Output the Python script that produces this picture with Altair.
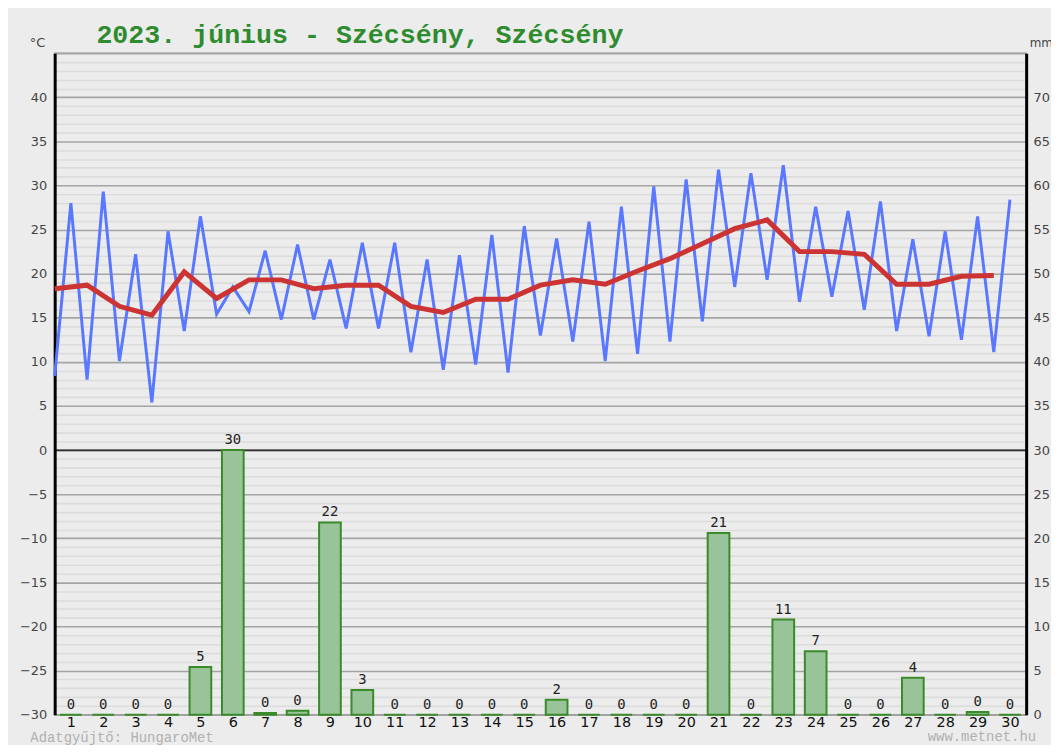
import altair as alt
import pandas as pd

days = list(range(1, 31))
tmin = [8.4, 8.0, 10.1, 5.4, 13.5, 15.4, 15.7, 14.8, 14.8, 13.8,
        13.8, 11.1, 9.1, 9.7, 8.8, 13.0, 12.3, 10.1, 10.9, 12.3,
        14.6, 18.5, 19.3, 16.8, 17.4, 15.9, 13.5, 12.9, 12.5, 11.1]
tmax = [28.0, 29.3, 22.2, 24.8, 26.5, 18.5, 22.6, 23.3, 21.6, 23.5,
        23.5, 21.6, 22.1, 24.4, 25.4, 24.0, 25.9, 27.6, 29.9, 30.7,
        31.8, 31.4, 32.3, 27.6, 27.1, 28.2, 23.9, 24.8, 26.5, 28.4]
tmean = [18.3, 18.7, 16.3, 15.3, 20.2, 17.2, 19.3, 19.3, 18.3, 18.7,
         18.7, 16.3, 15.6, 17.1, 17.1, 18.7, 19.3, 18.8, 20.3, 21.7,
         23.4, 25.1, 26.1, 22.5, 22.5, 22.2, 18.8, 18.8, 19.7, 19.8]
precip = [0, 0, 0, 0, 5.4, 30.0, 0.2, 0.45, 21.8, 2.8,
          0, 0, 0, 0, 0, 1.7, 0, 0, 0, 0,
          20.6, 0, 10.8, 7.2, 0, 0, 4.2, 0, 0.3, 0]

title_text = "2023. június - Szécsény, Szécsény"
footer_left = "Adatgyűjtő: HungaroMet"
footer_right = "www.metnet.hu"

df = pd.DataFrame({"day": days, "tmin": tmin, "tmax": tmax,
                   "tmean": tmean, "precip": precip})

PW, PH = 978, 666
xscale = alt.Scale(domain=[0, 30], nice=False, zero=False)
tscale = alt.Scale(domain=[-30, 45], nice=False, zero=False)
mmscale = alt.Scale(domain=[0, 75], nice=False, zero=False)

xaxis = alt.Axis(
    values=[d - 0.5 for d in days], tickCount=200,
    labelExpr="format(datum.value + 0.5, 'd')",
    ticks=False, domain=False, grid=False, labelFontSize=14.5, labelColor="#111",
    labelFont="DejaVu Sans", labelPadding=1, labelFlush=False, labelOverlap=False,
    title=footer_left, titleX=-25, titleY=22.5, titleAlign="left",
    titleBaseline="middle", titleFont="Liberation Mono", titleFontSize=14,
    titleColor="#b0b0b0", titleFontWeight="normal")

yaxis = alt.Axis(
    values=list(range(-30, 46)), tickCount=200, format="d",
    labelExpr="(datum.value % 5 === 0 && datum.value < 45) ? datum.label : ''",
    ticks=False, domain=True, domainColor="#000", domainWidth=3,
    grid=True, gridWidth=1.6,
    gridColor={"condition": {"test": "datum.value % 5 === 0", "value": "#a4a4a4"},
               "value": "#dcdcdc"},
    labelFont="DejaVu Sans", labelFontSize=13, labelColor="#444", labelPadding=8,
    labelOverlap=False, labelFlush=False,
    title="°C", titleAngle=0, titleX=-10, titleY=-4, titleAlign="right",
    titleBaseline="bottom", titleFont="DejaVu Sans", titleFontSize=13,
    titleColor="#444", titleFontWeight="normal")

mmaxis = alt.Axis(
    orient="right", values=list(range(0, 75, 5)), tickCount=200, format="d",
    ticks=False, domain=True, domainColor="#000", domainWidth=3, grid=False,
    labelFont="DejaVu Sans", labelFontSize=13, labelColor="#444", labelPadding=7,
    labelOverlap=False, labelFlush=False,
    title="mm", titleAngle=0, titleX=3, titleY=-4, titleAlign="left",
    titleBaseline="bottom", titleFont="DejaVu Sans", titleFontSize=12,
    titleColor="#444", titleFontWeight="normal")

base = alt.Chart(df)

blue = base.transform_fold(["tmin", "tmax"], as_=["kind", "temp"]).transform_calculate(
    xpos="datum.day - 1 + (datum.kind === 'tmax' ? 0.5 : 0)"
).mark_line(color="#5a78ff", strokeWidth=3, strokeJoin="miter").encode(
    x=alt.X("xpos:Q", scale=xscale, axis=xaxis),
    y=alt.Y("temp:Q", scale=tscale, axis=yaxis),
    order="xpos:Q")

red = base.transform_calculate(xpos="datum.day - 1").mark_line(
    color="#cc3333", strokeWidth=5).encode(
    x=alt.X("xpos:Q", scale=xscale),
    y=alt.Y("tmean:Q", scale=tscale))

zero = alt.Chart(alt.Data(values=[{"v": 0}])).mark_rule(
    color="#000", strokeWidth=1.3).encode(y=alt.Y("v:Q", scale=tscale))

title_mark = alt.Chart(alt.Data(values=[{"t": title_text}])).mark_text(
    font="Liberation Mono", fontSize=26.8, fontWeight="bold", color="#2e8b2e",
    align="left", baseline="alphabetic").encode(
    x=alt.value(42), y=alt.value(-10), text="t:N")

bars = base.transform_calculate(
    x1="datum.day - 1 + 0.165", x2="datum.day - 0.165", zero="0"
).mark_bar(fill="#99c49a", stroke="#3a8a2a", strokeWidth=2).encode(
    x=alt.X("x1:Q", scale=xscale),
    x2="x2:Q",
    y=alt.Y("precip:Q", scale=mmscale, axis=mmaxis),
    y2="zero:Q")

labels = base.transform_calculate(xc="datum.day - 0.5").mark_text(
    font="DejaVu Sans Mono", fontSize=14, color="#222", baseline="bottom", dy=-3
).encode(
    x=alt.X("xc:Q", scale=xscale),
    y=alt.Y("precip:Q", scale=mmscale),
    text=alt.Text("precip:Q", format=".0f"))

footer = alt.Chart(alt.Data(values=[{"t": footer_right}])).mark_text(
    font="Liberation Mono", fontSize=14, color="#b0b0b0", align="right",
    baseline="middle").encode(
    x=alt.value(PW + 10), y=alt.value(PH + 22.5), text="t:N")

temp_layer = alt.layer(blue, red, zero, title_mark)
mm_layer = alt.layer(bars, labels, footer)

chart = alt.layer(temp_layer, mm_layer).resolve_scale(y="independent").properties(
    width=PW, height=PH,
    autosize=alt.AutoSizeParams(type="none"),
    padding={"left": 47, "top": 43, "right": 25, "bottom": 28},
    background="#ececec",
).configure_view(stroke="#9a9a9a", strokeWidth=1.5, fill="#ececec")

chart.save("out.html", embed_options={"renderer": "svg", "actions": False})
